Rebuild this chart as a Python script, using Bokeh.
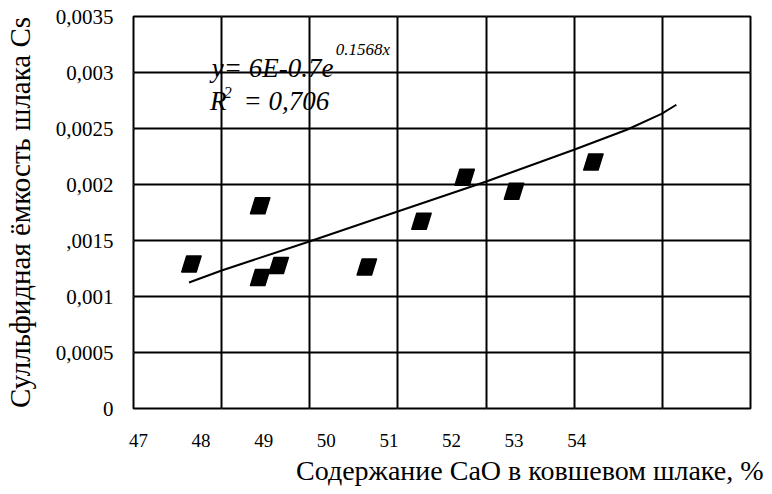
from bokeh.plotting import figure
from bokeh.models import Range1d, LinearAxis, FixedTicker, Grid, Label, Title
from bokeh.embed import file_html
from bokeh.resources import INLINE

# ---- data ----
cao = [47.66, 48.44, 48.44, 48.65, 49.65, 50.27, 50.76, 51.32, 52.22]
cs = [0.00129, 0.00181, 0.00117, 0.001277, 0.001263, 0.001672, 0.002065, 0.00194, 0.0022]

trend_x = [47.63, 48.00, 48.995, 49.746, 51.003, 51.997, 52.597, 52.990, 53.159]
trend_y = [0.001125, 0.001232, 0.001491, 0.001692, 0.002027, 0.00231, 0.002489, 0.002631, 0.002712]

x_grid = [47, 48, 49, 50, 51, 52, 53, 54]
x_tick_values = [47, 48, 49, 50, 51, 52, 53, 54]
x_tick_labels = ["47", "48", "49", "50", "51", "52", "53", "54"]

y_ticks = [0.0, 0.0005, 0.001, 0.0015, 0.002, 0.0025, 0.003, 0.0035]
y_tick_labels = ["0", "0,0005", "0,001", ",0015", "0,002", "0,0025", "0,003", "0,0035"]

eq_text = "y= 6E-0.7e"
eq_sup = "0.1568x"
r2_base = "R"
r2_sup = "2"
r2_text = "= 0,706"

x_title = "Содержание CaO в ковшевом  шлаке, %"
y_title = "Сулльфидная ёмкость шлака Cs"

FONT = "Times New Roman"

W, H = 764, 492
ML, MR, MT, MB = 128, 14, 16, 84
frame_w = W - ML - MR
frame_h = H - MT - MB

p = figure(width=W, height=H,
           x_range=Range1d(47, 54), y_range=Range1d(0, 0.0035),
           x_axis_location=None, y_axis_location=None,
           toolbar_location=None, output_backend="svg",
           min_border_left=ML, min_border_right=MR,
           min_border_top=MT, min_border_bottom=MB)
p.background_fill_color = "white"
p.border_fill_color = "white"
p.outline_line_color = "black"
p.outline_line_width = 2

# grid
p.add_layout(Grid(dimension=0, ticker=FixedTicker(ticks=x_grid),
                  grid_line_color="black", grid_line_width=2))
p.add_layout(Grid(dimension=1, ticker=FixedTicker(ticks=y_ticks),
                  grid_line_color="black", grid_line_width=2))

# y axis
yax = LinearAxis(ticker=FixedTicker(ticks=y_ticks),
                 major_label_overrides=dict(zip(y_ticks, y_tick_labels)),
                 major_tick_out=0, major_tick_in=0, minor_tick_out=0, minor_tick_in=0,
                 axis_line_color=None,
                 major_label_standoff=20,
                 major_label_text_font=FONT, major_label_text_font_size="21px",
                 major_label_text_color="black",
                 axis_label=y_title, axis_label_text_font=FONT,
                 axis_label_text_font_size="29px", axis_label_text_font_style="normal",
                 axis_label_text_color="black", axis_label_standoff=17)
p.add_layout(yax, "left")

# x tick labels (placed as in the reference, on their own scale)
p.extra_x_ranges = {"lab": Range1d(46.92, 56.776)}
xax = LinearAxis(x_range_name="lab", ticker=FixedTicker(ticks=x_tick_values),
                 major_label_overrides=dict(zip(x_tick_values, x_tick_labels)),
                 major_tick_out=0, major_tick_in=0, minor_tick_out=0, minor_tick_in=0,
                 axis_line_color=None, major_label_standoff=25,
                 major_label_text_font=FONT, major_label_text_font_size="19px",
                 major_label_text_color="black")
p.add_layout(xax, "below")

p.add_layout(Title(text=x_title, align="right", offset=-20,
                   text_font=FONT, text_font_size="28px", text_font_style="normal",
                   text_color="black", standoff=6), "below")

# trend line
p.line(trend_x, trend_y, line_color="black", line_width=2)

# parallelogram markers (size in pixels converted through the scales)
dx = 7.0 / frame_w
dy = 0.0035 / frame_h
shape = [(-5, 8), (9.5, 8), (4.5, -8), (-10, -8)]
xs = [[cx + sx * dx for sx, sy in shape] for cx in cao]
ys = [[cy + sy * dy for sx, sy in shape] for cy in cs]
p.patches(xs, ys, fill_color="black", line_color="black", line_width=1.5, line_join="round")

# equation (positions in page pixels converted to data)
def px_to_x(px):
    return 47 + (px - 8 - ML) * dx

def py_to_y(py):
    return (MT + frame_h - py) * dy

p.add_layout(Label(x=px_to_x(215), y=py_to_y(67), text=eq_text, text_font=FONT,
                   text_font_size="27px", text_font_style="italic", text_color="black",
                   text_baseline="alphabetic"))
p.add_layout(Label(x=px_to_x(340), y=py_to_y(49), text=eq_sup, text_font=FONT,
                   text_font_size="17px", text_font_style="italic", text_color="black",
                   text_baseline="alphabetic"))
p.add_layout(Label(x=px_to_x(213), y=py_to_y(100), text=r2_base, text_font=FONT,
                   text_font_size="27px", text_font_style="italic", text_color="black",
                   text_baseline="alphabetic"))
p.add_layout(Label(x=px_to_x(227), y=py_to_y(92), text=r2_sup, text_font=FONT,
                   text_font_size="16px", text_font_style="italic", text_color="black",
                   text_baseline="alphabetic"))
p.add_layout(Label(x=px_to_x(247), y=py_to_y(100), text=r2_text, text_font=FONT,
                   text_font_size="27px", text_font_style="italic", text_color="black",
                   text_baseline="alphabetic"))

open("out.html", "w").write(file_html(p, INLINE))
